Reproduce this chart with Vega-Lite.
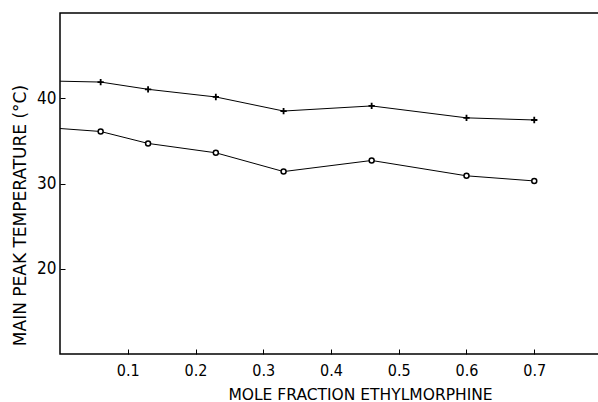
{
  "$schema": "https://vega.github.io/schema/vega-lite/v6.json",
  "autosize": "none",
  "padding": {"left": 60, "top": 13, "right": 0, "bottom": 48},
  "width": 542,
  "height": 341,
  "background": "white",
  "config": {
    "view": {"stroke": "black", "strokeWidth": 1.5},
    "axis": {
      "domain": false,
      "grid": false,
      "tickColor": "black",
      "tickSize": -5,
      "tickWidth": 1,
      "labelColor": "black",
      "titleColor": "black",
      "labelFont": "DejaVu Sans Condensed",
      "titleFont": "DejaVu Sans",
      "labelFontSize": 16,
      "titleFontWeight": "normal"
    }
  },
  "data": {
    "values": [
      {"x": 0.0, "T": 42.0, "series": "plus"},
      {"x": 0.06, "T": 41.9, "series": "plus"},
      {"x": 0.13, "T": 41.05, "series": "plus"},
      {"x": 0.23, "T": 40.15, "series": "plus"},
      {"x": 0.33, "T": 38.5, "series": "plus"},
      {"x": 0.46, "T": 39.1, "series": "plus"},
      {"x": 0.6, "T": 37.7, "series": "plus"},
      {"x": 0.7, "T": 37.45, "series": "plus"},
      {"x": 0.0, "T": 36.45, "series": "circle"},
      {"x": 0.06, "T": 36.1, "series": "circle"},
      {"x": 0.13, "T": 34.7, "series": "circle"},
      {"x": 0.23, "T": 33.6, "series": "circle"},
      {"x": 0.33, "T": 31.4, "series": "circle"},
      {"x": 0.46, "T": 32.7, "series": "circle"},
      {"x": 0.6, "T": 30.9, "series": "circle"},
      {"x": 0.7, "T": 30.3, "series": "circle"}
    ]
  },
  "encoding": {
    "x": {
      "field": "x", "type": "quantitative",
      "scale": {"domain": [0, 0.8], "nice": false, "zero": false},
      "axis": {
        "values": [0.1, 0.2, 0.3, 0.4, 0.5, 0.6, 0.7],
        "format": ".1f",
        "labelPadding": 13,
        "labelFontSize": 16,
        "title": "MOLE FRACTION ETHYLMORPHINE",
        "titleFontSize": 15.5,
        "titleX": 300,
        "titleY": 48,
        "titleAlign": "center",
        "titleBaseline": "bottom"
      }
    },
    "y": {
      "field": "T", "type": "quantitative",
      "scale": {"domain": [10, 50], "nice": false, "zero": false},
      "axis": {
        "values": [20, 30, 40],
        "labelPadding": 9,
        "labelFontSize": 17,
        "title": "MAIN PEAK TEMPERATURE (°C)",
        "titleFontSize": 17,
        "titleX": -35,
        "titleY": 202,
        "titleAngle": -90,
        "titleAlign": "center",
        "titleBaseline": "alphabetic"
      }
    }
  },
  "layer": [
    {
      "mark": {"type": "line", "color": "black", "strokeWidth": 1},
      "encoding": {"detail": {"field": "series"}}
    },
    {
      "transform": [{"filter": "datum.x > 0 && datum.series == 'plus'"}],
      "mark": {"type": "point", "shape": "M-1,0L1,0M0,-1L0,1", "filled": false, "color": "black", "strokeWidth": 1.8, "size": 40, "opacity": 1}
    },
    {
      "transform": [{"filter": "datum.x > 0 && datum.series == 'circle'"}],
      "mark": {"type": "point", "shape": "circle", "filled": true, "fill": "white", "stroke": "black", "strokeWidth": 1.5, "size": 25, "opacity": 1}
    }
  ]
}
